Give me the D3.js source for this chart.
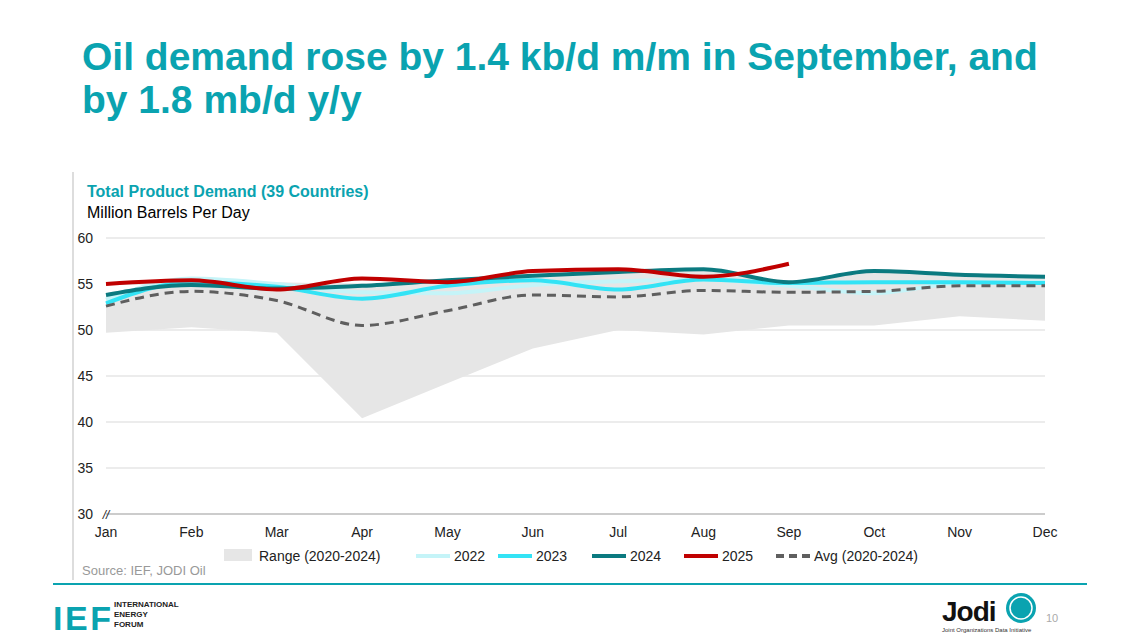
<!DOCTYPE html>
<html><head><meta charset="utf-8">
<script src="https://cdn.jsdelivr.net/npm/d3@7"></script>
<style>body{margin:0;background:#fff;font-family:Arial,"Liberation Sans",sans-serif}</style>
</head><body><svg width="1135" height="639"></svg>
<script>
var months = ["Jan","Feb","Mar","Apr","May","Jun","Jul","Aug","Sep","Oct","Nov","Dec"];
var yTicks = [30,35,40,45,50,55,60];
var rangeLow  = [49.7,50.3,49.7,40.4,44.2,48.0,50.0,49.5,50.5,50.5,51.5,51.0];
var rangeHigh = [54.0,55.7,55.2,55.0,55.5,56.0,56.4,56.7,55.3,56.4,56.0,55.8];
var s2022 = [53.3,55.6,55.0,54.1,54.0,54.9,55.3,55.5,54.8,54.0,55.1,55.2];
var s2023 = [52.9,55.2,54.7,53.4,54.8,55.4,54.4,55.5,55.1,55.2,55.2,55.1];
var s2024 = [53.8,54.9,54.5,54.8,55.4,55.9,56.3,56.6,55.2,56.4,56.0,55.8];
var s2025 = [55.0,55.4,54.4,55.6,55.2,56.4,56.6,55.8,57.2];
var avg   = [52.6,54.2,53.2,50.5,52.1,53.8,53.6,54.3,54.1,54.2,54.8,54.8];

var teal = "#0aa3b0";
var svg = d3.select("svg");
var x = d3.scalePoint().domain(months).range([106,1045]);
var y = d3.scaleLinear().domain([30,60]).range([514,238]);

// title
[["Oil demand rose by 1.4 kb/d m/m in September, and",70],["by 1.8 mb/d y/y",113]].forEach(function(t){
  svg.append("text").attr("x",82).attr("y",t[1]).text(t[0])
    .attr("font-size","39px").attr("font-weight","bold").attr("fill",teal);
});
svg.append("text").attr("x",87).attr("y",197).text("Total Product Demand (39 Countries)")
  .attr("font-size","16px").attr("font-weight","bold").attr("fill",teal);
svg.append("text").attr("x",87).attr("y",218).text("Million Barrels Per Day")
  .attr("font-size","16px").attr("fill","#000");

svg.append("line").attr("x1",73).attr("x2",73).attr("y1",172).attr("y2",580).attr("stroke","#bbb");

// grid
svg.append("g").selectAll("line").data(yTicks).enter().append("line")
  .attr("x1",106).attr("x2",1045).attr("y1",d=>y(d)).attr("y2",d=>y(d))
  .attr("stroke",d=>d===30?"#999":"#d9d9d9");
svg.append("g").selectAll("text").data(yTicks).enter().append("text")
  .attr("x",93).attr("y",d=>y(d)+5).attr("text-anchor","end").text(d=>d)
  .attr("font-size","14px").attr("fill","#222");
svg.append("text").attr("x",106).attr("y",519).attr("text-anchor","middle").text("//")
  .attr("font-size","12px").attr("font-style","italic").attr("fill","#222");
svg.append("g").selectAll("text").data(months).enter().append("text")
  .attr("x",d=>x(d)).attr("y",537).attr("text-anchor","middle").text(d=>d)
  .attr("font-size","14px").attr("fill","#222");

// range area
var area = d3.area().x((d,i)=>x(months[i])).y0((d,i)=>y(rangeLow[i])).y1(d=>y(d));
svg.append("path").datum(rangeHigh).attr("d",area).attr("fill","#e6e6e6");

var line = d3.line().x((d,i)=>x(months[i])).y(d=>y(d)).curve(d3.curveMonotoneX);
var series = [
  {v:s2022,c:"#c5f4f8",w:4,dash:null},
  {v:s2023,c:"#33e3f5",w:4,dash:null},
  {v:avg,c:"#5f5f5f",w:3,dash:"9,6"},
  {v:s2024,c:"#0b7a80",w:4,dash:null},
  {v:s2025,c:"#c00000",w:4,dash:null}
];
series.forEach(function(s){
  svg.append("path").datum(s.v).attr("d",line).attr("fill","none")
    .attr("stroke",s.c).attr("stroke-width",s.w).attr("stroke-dasharray",s.dash);
});

// legend
var leg = [
  {t:"Range (2020-2024)",x:224,type:"area"},
  {t:"2022",x:416,c:"#c5f4f8"},
  {t:"2023",x:498,c:"#33e3f5"},
  {t:"2024",x:592,c:"#0b7a80"},
  {t:"2025",x:684,c:"#c00000"},
  {t:"Avg (2020-2024)",x:776,c:"#5f5f5f",dash:"8,5"}
];
leg.forEach(function(l){
  if(l.type==="area") svg.append("rect").attr("x",l.x).attr("y",549).attr("width",28).attr("height",12).attr("fill","#e6e6e6");
  else svg.append("line").attr("x1",l.x).attr("x2",l.x+34).attr("y1",556).attr("y2",556)
    .attr("stroke",l.c).attr("stroke-width",4).attr("stroke-dasharray",l.dash||null);
  svg.append("text").attr("x",l.type==="area"?l.x+35:l.x+38).attr("y",561).text(l.t)
    .attr("font-size","14px").attr("fill","#222");
});
svg.append("text").attr("x",82).attr("y",575).text("Source: IEF, JODI Oil").attr("font-size","13px").attr("fill","#999");

// footer
svg.append("line").attr("x1",53).attr("x2",1087).attr("y1",584).attr("y2",584).attr("stroke",teal).attr("stroke-width",2);
svg.append("text").attr("x",53).attr("y",630).text("IEF").attr("font-size","34px").attr("font-weight","bold")
  .attr("fill",teal).attr("textLength",58);
["INTERNATIONAL","ENERGY","FORUM"].forEach(function(t,i){
  svg.append("text").attr("x",114).attr("y",607+i*10).text(t).attr("font-size","8px").attr("font-weight","bold").attr("fill","#222");
});
svg.append("text").attr("x",942).attr("y",621).text("Jodi").attr("font-size","28px").attr("font-weight","bold").attr("fill","#111").attr("letter-spacing","-1");
svg.append("circle").attr("cx",1021).attr("cy",608).attr("r",15).attr("fill",teal);
svg.append("circle").attr("cx",1021).attr("cy",608).attr("r",11).attr("fill","none").attr("stroke","#fff").attr("stroke-width",1.5);
svg.append("text").attr("x",942).attr("y",632).text("Joint Organizations Data Initiative").attr("font-size","6px").attr("fill","#333");
svg.append("text").attr("x",1046).attr("y",622).text("10").attr("font-size","11px").attr("fill","#aaa");
</script></body></html>
